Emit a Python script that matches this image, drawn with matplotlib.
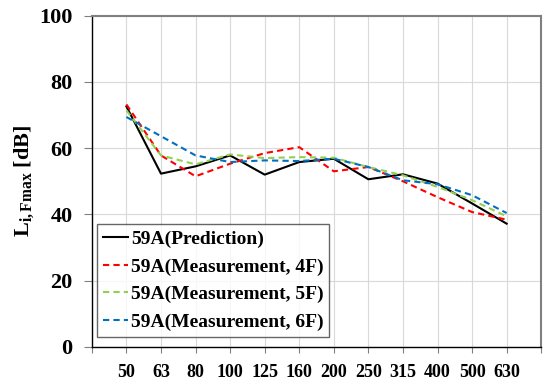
import matplotlib
matplotlib.use("Agg")
import matplotlib.pyplot as plt

freqs = ["50", "63", "80", "100", "125", "160", "200", "250", "315", "400", "500", "630"]
prediction = [72.6, 52.3, 54.5, 57.8, 52.0, 55.8, 56.8, 50.6, 52.1, 49.3, 43.3, 37.2]
meas_4f = [73.2, 57.8, 51.5, 55.3, 58.5, 60.3, 53.0, 54.3, 50.0, 45.2, 40.7, 38.4]
meas_5f = [71.4, 57.8, 55.1, 58.1, 57.0, 57.3, 57.1, 54.3, 51.8, 48.3, 44.3, 39.4]
meas_6f = [69.4, 63.6, 57.8, 55.8, 56.3, 56.1, 56.8, 54.3, 50.3, 49.1, 45.8, 40.4]

plt.rcParams["font.family"] = ["Liberation Serif", "DejaVu Serif"]
plt.rcParams["font.weight"] = "bold"
plt.rcParams["mathtext.fontset"] = "custom"
plt.rcParams["mathtext.rm"] = "Liberation Serif:bold"
plt.rcParams["mathtext.bf"] = "Liberation Serif:bold"
plt.rcParams["mathtext.it"] = "Liberation Serif:bold"

fig = plt.figure(figsize=(5.5, 3.82), dpi=100)
ax = fig.add_axes([0.167, 0.092, 0.817, 0.867])

x = list(range(len(freqs)))
ax.plot(x, prediction, color="black", lw=1.5, label="59A(Prediction)")
ax.plot(x, meas_4f, color="#ff0000", lw=1.5, ls=(0, (3, 2)), label="59A(Measurement, 4F)")
ax.plot(x, meas_5f, color="#92d050", lw=1.5, ls=(0, (3, 2)), label="59A(Measurement, 5F)")
ax.plot(x, meas_6f, color="#0070c0", lw=1.5, ls=(0, (3, 2)), label="59A(Measurement, 6F)")

ax.set_xlim(-1, 12)
ax.set_ylim(0, 100)
ax.set_xticks(range(-1, 13))
ax.set_xticklabels([""] + freqs + [""])
ax.set_yticks(range(0, 101, 20))
ax.grid(True, color="#d9d9d9", lw=0.8)
ax.set_axisbelow(True)

for side in ["top", "right"]:
    ax.spines[side].set_color("#808080")
    ax.spines[side].set_linewidth(1.5)
for side in ["left", "bottom"]:
    ax.spines[side].set_color("black")
    ax.spines[side].set_linewidth(1.0)

ax.tick_params(axis="y", labelsize=16, length=6, color="#808080", pad=8)
ax.tick_params(axis="x", labelsize=13, length=4, color="#808080", pad=8)

ax.set_ylabel(r"$\mathbf{L_{i,Fmax}}$ [dB]", fontsize=16, fontweight="bold", labelpad=2)

leg = ax.legend(loc="lower left", bbox_to_anchor=(0.011, 0.03), fontsize=14,
                frameon=True, fancybox=False, edgecolor="#404040",
                handlelength=1.3, handletextpad=0.15, borderpad=0.3,
                labelspacing=0.52, borderaxespad=0.0)
leg.get_frame().set_linewidth(1.0)

fig.savefig("out.png", dpi=100)
